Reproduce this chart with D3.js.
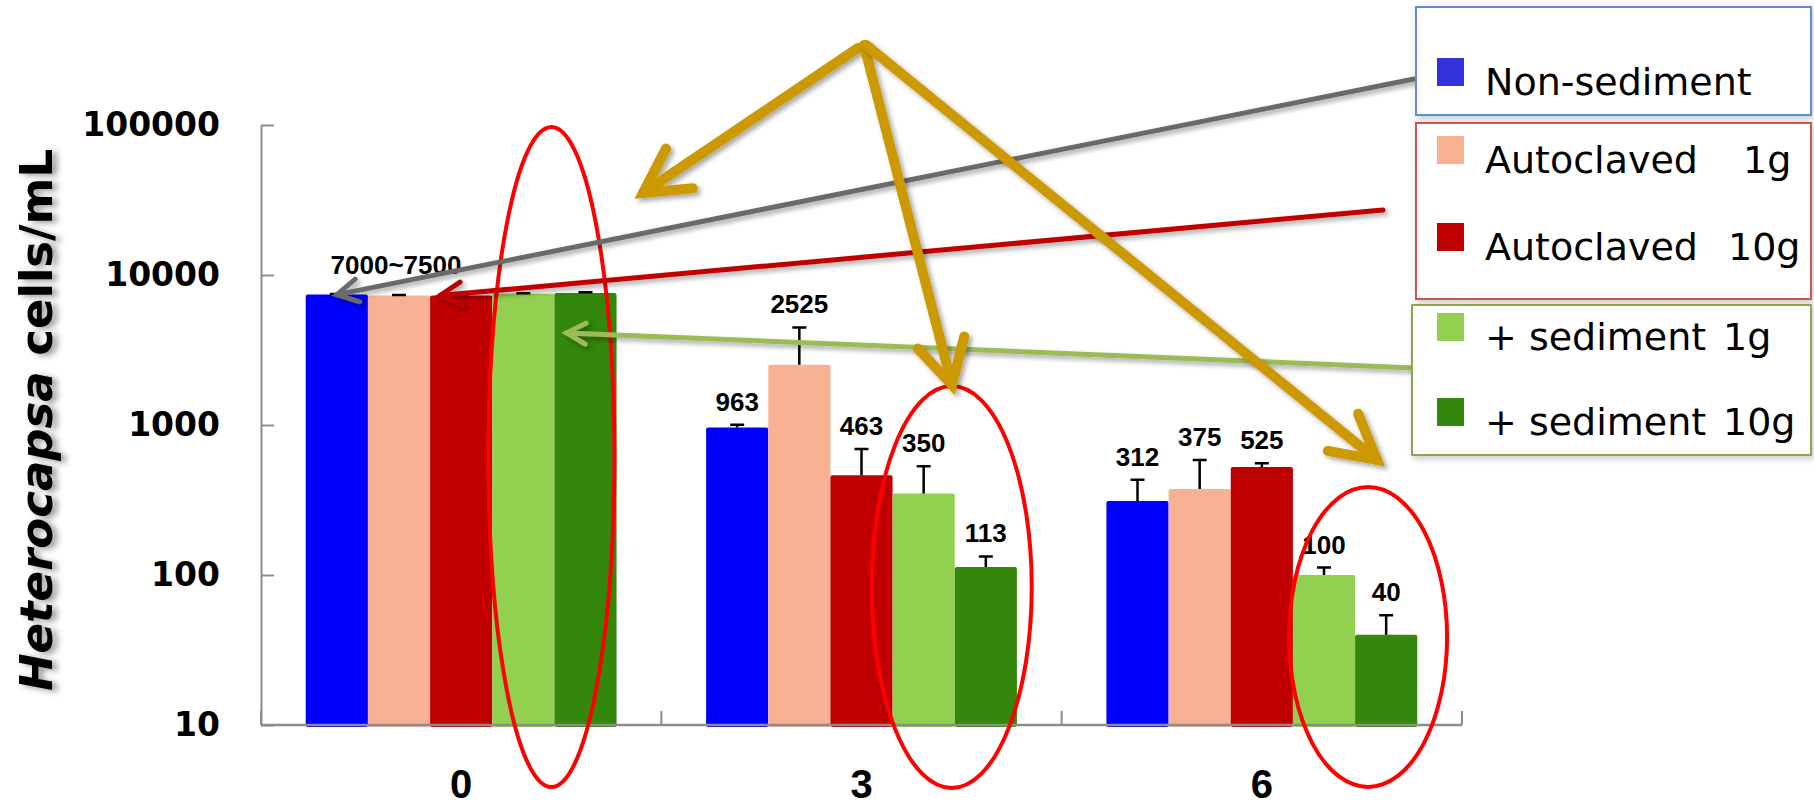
<!DOCTYPE html>
<html>
<head>
<meta charset="utf-8">
<script src="https://cdn.jsdelivr.net/npm/d3@7"></script>
<style>
  body { margin: 0; background: #fff; }
</style>
</head>
<body>
<div id="chart"></div>
<script>
// Données
const days = ["0", "3", "6"]
const series = ["Non-sediment", "Autoclaved 1g", "Autoclaved 10g", "+ sediment 1g", "+ sediment 10g"]
const nonSediment = [7400, 963, 312]
const autoclaved1g = [7300, 2525, 375]
const autoclaved10g = [7300, 463, 525]
const sediment1g = [7500, 350, 100]
const sediment10g = [7600, 113, 40]
const nonSedimentErr = [60, 40, 120]
const autoclaved1gErr = [50, 1950, 210]
const autoclaved10gErr = [50, 230, 30]
const sediment1gErr = [60, 180, 12]
const sediment10gErr = [60, 20, 14]
const yTicks = [10, 100, 1000, 10000, 100000]
const day0Label = "7000~7500"

const values = [nonSediment, autoclaved1g, autoclaved10g, sediment1g, sediment10g]
const errors = [nonSedimentErr, autoclaved1gErr, autoclaved10gErr, sediment1gErr, sediment10gErr]

const width = 1814
const height = 808

const svg = d3.select("#chart")
  .append("svg")
    .attr("width", width)
    .attr("height", height)
    .style("font-family", "'DejaVu Sans', sans-serif")

// Ombres
const defs = svg.append("defs")
const shadow = defs.append("filter").attr("id", "shadow")
    .attr("x", "-20%").attr("y", "-20%").attr("width", "140%").attr("height", "140%")
shadow.append("feDropShadow")
    .attr("dx", 3).attr("dy", 3).attr("stdDeviation", 2.5)
    .attr("flood-color", "#000").attr("flood-opacity", 0.35)
const softShadow = defs.append("filter").attr("id", "softShadow")
    .attr("x", "-10%").attr("y", "-10%").attr("width", "120%").attr("height", "130%")
softShadow.append("feDropShadow")
    .attr("dx", 2).attr("dy", 3).attr("stdDeviation", 3)
    .attr("flood-color", "#000").attr("flood-opacity", 0.2)
const titleShadow = defs.append("filter").attr("id", "titleShadow")
    .attr("x", "-30%").attr("y", "-10%").attr("width", "160%").attr("height", "120%")
titleShadow.append("feDropShadow")
    .attr("dx", 5).attr("dy", 2).attr("stdDeviation", 3)
    .attr("flood-color", "#000").attr("flood-opacity", 0.4)

// Echelles
const x0 = d3.scaleBand()
    .domain(days)
    .range([261, 1462])
    .padding(0)
const x1 = d3.scaleBand()
    .domain(series)
    .range([0, x0.bandwidth()])
    .paddingInner(0)
    .paddingOuter(0.72)
const y = d3.scaleLog()
    .domain([10, 100000])
    .range([725, 125])
const color = d3.scaleOrdinal()
    .domain(series)
    .range(["#0000ff", "#f8b193", "#c00000", "#92d050", "#33870a"])
const legendColor = d3.scaleOrdinal()
    .domain(series)
    .range(["#3232dc", "#f9b192", "#c00000", "#92d050", "#33870a"])

const data = days.map((d, i) => series.map((s, j) => ({day: d, series: s, value: values[j][i], err: errors[j][i]})))

// Barres
const groups = svg.append("g")
  .selectAll("g")
  .data(data)
  .join("g")
    .attr("transform", d => `translate(${x0(d[0].day)},0)`)

groups.selectAll("rect")
  .data(d => d)
  .join("rect")
    .attr("x", d => x1(d.series))
    .attr("y", d => y(d.value))
    .attr("width", x1.bandwidth())
    .attr("height", d => y(10) + 2 - y(d.value))
    .attr("rx", 2)
    .attr("fill", d => color(d.series))

// Barres d'erreur
groups.selectAll("path.err")
  .data(d => d)
  .join("path")
    .attr("class", "err")
    .attr("d", d => {
      const cx = x1(d.series) + x1.bandwidth() / 2
      const top = y(d.value + d.err)
      return `M${cx},${y(d.value)}V${top}M${cx - 7},${top}H${cx + 7}`
    })
    .attr("stroke", "#000")
    .attr("stroke-width", 2.5)
    .attr("fill", "none")

// Etiquettes de valeurs
groups.filter(d => d[0].day !== "0")
  .selectAll("text")
  .data(d => d)
  .join("text")
    .attr("x", d => x1(d.series) + x1.bandwidth() / 2)
    .attr("y", d => y(d.value + d.err) - 14)
    .attr("text-anchor", "middle")
    .style("font-family", "'Liberation Sans', Arial, sans-serif")
    .style("font-weight", "bold")
    .style("font-size", "26px")
    .text(d => d.value)

const day0 = data[0]
svg.append("text")
    .attr("x", x0("0") + x1(series[1]) + x1.bandwidth() / 2 - 3)
    .attr("y", y(d3.max(day0, d => d.value + d.err)) - 18)
    .attr("text-anchor", "middle")
    .style("font-family", "'Liberation Sans', Arial, sans-serif")
    .style("font-weight", "bold")
    .style("font-size", "26px")
    .text(day0Label)

// Axe Y
const yAxis = svg.append("g")
    .attr("transform", `translate(${x0.range()[0]},0)`)
    .call(d3.axisLeft(y)
      .tickValues(yTicks)
      .tickFormat(d3.format("d"))
      .tickSizeInner(-13)
      .tickSizeOuter(0)
      .tickPadding(41))
yAxis.select(".domain").attr("stroke", "#8c8c8c").attr("stroke-width", 2)
yAxis.selectAll(".tick line").attr("stroke", "#8c8c8c").attr("stroke-width", 2)
yAxis.selectAll(".tick text")
    .style("font-family", "'DejaVu Sans', sans-serif")
    .style("font-weight", "bold")
    .style("font-size", "33px")
    .attr("fill", "#000")

// Axe X
const xAxis = svg.append("g")
const bounds = [x0.range()[0]].concat(days.map(d => x0(d) + x0.bandwidth()))
xAxis.append("line")
    .attr("x1", x0.range()[0]).attr("x2", x0.range()[1])
    .attr("y1", y(10)).attr("y2", y(10))
    .attr("stroke", "#8c8c8c").attr("stroke-width", 2.5)
xAxis.selectAll("line.tick")
  .data(bounds)
  .join("line")
    .attr("class", "tick")
    .attr("x1", d => d).attr("x2", d => d)
    .attr("y1", y(10)).attr("y2", y(10) - 14)
    .attr("stroke", "#8c8c8c").attr("stroke-width", 2)
xAxis.selectAll("text")
  .data(days)
  .join("text")
    .attr("x", d => x0(d) + x0.bandwidth() / 2)
    .attr("y", 798)
    .attr("text-anchor", "middle")
    .style("font-family", "'Liberation Sans', Arial, sans-serif")
    .style("font-weight", "bold")
    .style("font-size", "40px")
    .text(d => d)

// Titre de l'axe Y
const title = svg.append("g")
    .attr("filter", "url(#titleShadow)")
  .append("text")
    .attr("transform", "translate(52,420) rotate(-90)")
    .attr("text-anchor", "middle")
    .style("font-family", "'DejaVu Sans', sans-serif")
    .style("font-weight", "bold")
    .style("font-size", "45px")
title.append("tspan").style("font-style", "italic").text("Heterocapsa")
title.append("tspan").text(" cells/mL")

// Ellipses rouges
const ellipses = [
  {cx: x0("0") + x1(series[4]) - 3, cy: 457, rx: 63, ry: 330},
  {cx: x0("3") + x1(series[4]) - 3, cy: 587, rx: 80, ry: 201},
  {cx: x0("6") + x1(series[4]) + 13, cy: 637, rx: 79, ry: 150}
]
svg.append("g")
  .selectAll("ellipse")
  .data(ellipses)
  .join("ellipse")
    .attr("cx", d => d.cx).attr("cy", d => d.cy)
    .attr("rx", d => d.rx).attr("ry", d => d.ry)
    .attr("fill", "none")
    .attr("stroke", "#ff0000")
    .attr("stroke-width", 4)

// Flèches
function arrow(g, xa, ya, xb, yb, col, w, head) {
  const ang = Math.atan2(ya - yb, xa - xb)
  const a1 = [xb + head * Math.cos(ang + 0.5), yb + head * Math.sin(ang + 0.5)]
  const a2 = [xb + head * Math.cos(ang - 0.5), yb + head * Math.sin(ang - 0.5)]
  const ag = g.append("g").attr("filter", "url(#shadow)")
  ag.append("line")
    .attr("x1", xa).attr("y1", ya).attr("x2", xb).attr("y2", yb)
    .attr("stroke", col).attr("stroke-width", w).attr("stroke-linecap", "round")
  ag.append("path")
    .attr("d", `M${a1[0]},${a1[1]}L${xb},${yb}L${a2[0]},${a2[1]}`)
    .attr("fill", "none")
    .attr("stroke", col).attr("stroke-width", w)
    .attr("stroke-linecap", "round")
    .attr("stroke-linejoin", "miter")
}

const notes = svg.append("g")
arrow(notes, 1414, 79,
  x0("0") + x1(series[0]) + x1.bandwidth() / 2, y(nonSediment[0]), "#6b6b6b", 5, 24)
arrow(notes, 1383, 210,
  x0("0") + x1(series[2]) + 10, y(autoclaved10g[0]), "#c00000", 5, 24)
arrow(notes, 1414, 368,
  x0("0") + x1(series[4]) + 12, y(sediment10g[0]) + 40, "#9bbb59", 5, 22)
arrow(notes, 858, 48, 643, 193, "#cc9900", 10, 50)
arrow(notes, 864, 45, 952, 385, "#cc9900", 10, 50)
arrow(notes, 866, 45, 1377, 460, "#cc9900", 10, 50)

// Légende
const legend = svg.append("g")
const boxes = [
  {x: 1416, y: 7, h: 108, stroke: "#5b8fd6"},
  {x: 1416, y: 123, h: 176, stroke: "#cc5552"},
  {x: 1412, y: 305, h: 150, stroke: "#8aa84e"}
]
legend.selectAll("rect.box")
  .data(boxes)
  .join("rect")
    .attr("class", "box")
    .attr("x", d => d.x).attr("y", d => d.y)
    .attr("width", d => 1811 - d.x).attr("height", d => d.h)
    .attr("fill", "#fff")
    .attr("stroke", d => d.stroke)
    .attr("stroke-width", 2)
    .attr("filter", "url(#softShadow)")

const legendBase = [95, 173, 260, 350, 435]
const items = legend.selectAll("g.item")
  .data(series)
  .join("g")
    .attr("class", "item")
    .attr("transform", (d, i) => `translate(0,${legendBase[i]})`)
items.append("rect")
    .attr("x", 1437).attr("y", -37)
    .attr("width", 27).attr("height", 28)
    .attr("fill", d => legendColor(d))
items.append("text")
    .attr("x", 1485)
    .style("font-size", "38px")
    .text(d => d.endsWith("g") ? d.slice(0, d.lastIndexOf(" ")) : d)
items.append("text")
    .attr("x", (d, i) => [0, 1743, 1728, 1723, 1723][i])
    .style("font-size", "38px")
    .text(d => d.endsWith("g") ? d.slice(d.lastIndexOf(" ") + 1) : "")
</script>
</body>
</html>
